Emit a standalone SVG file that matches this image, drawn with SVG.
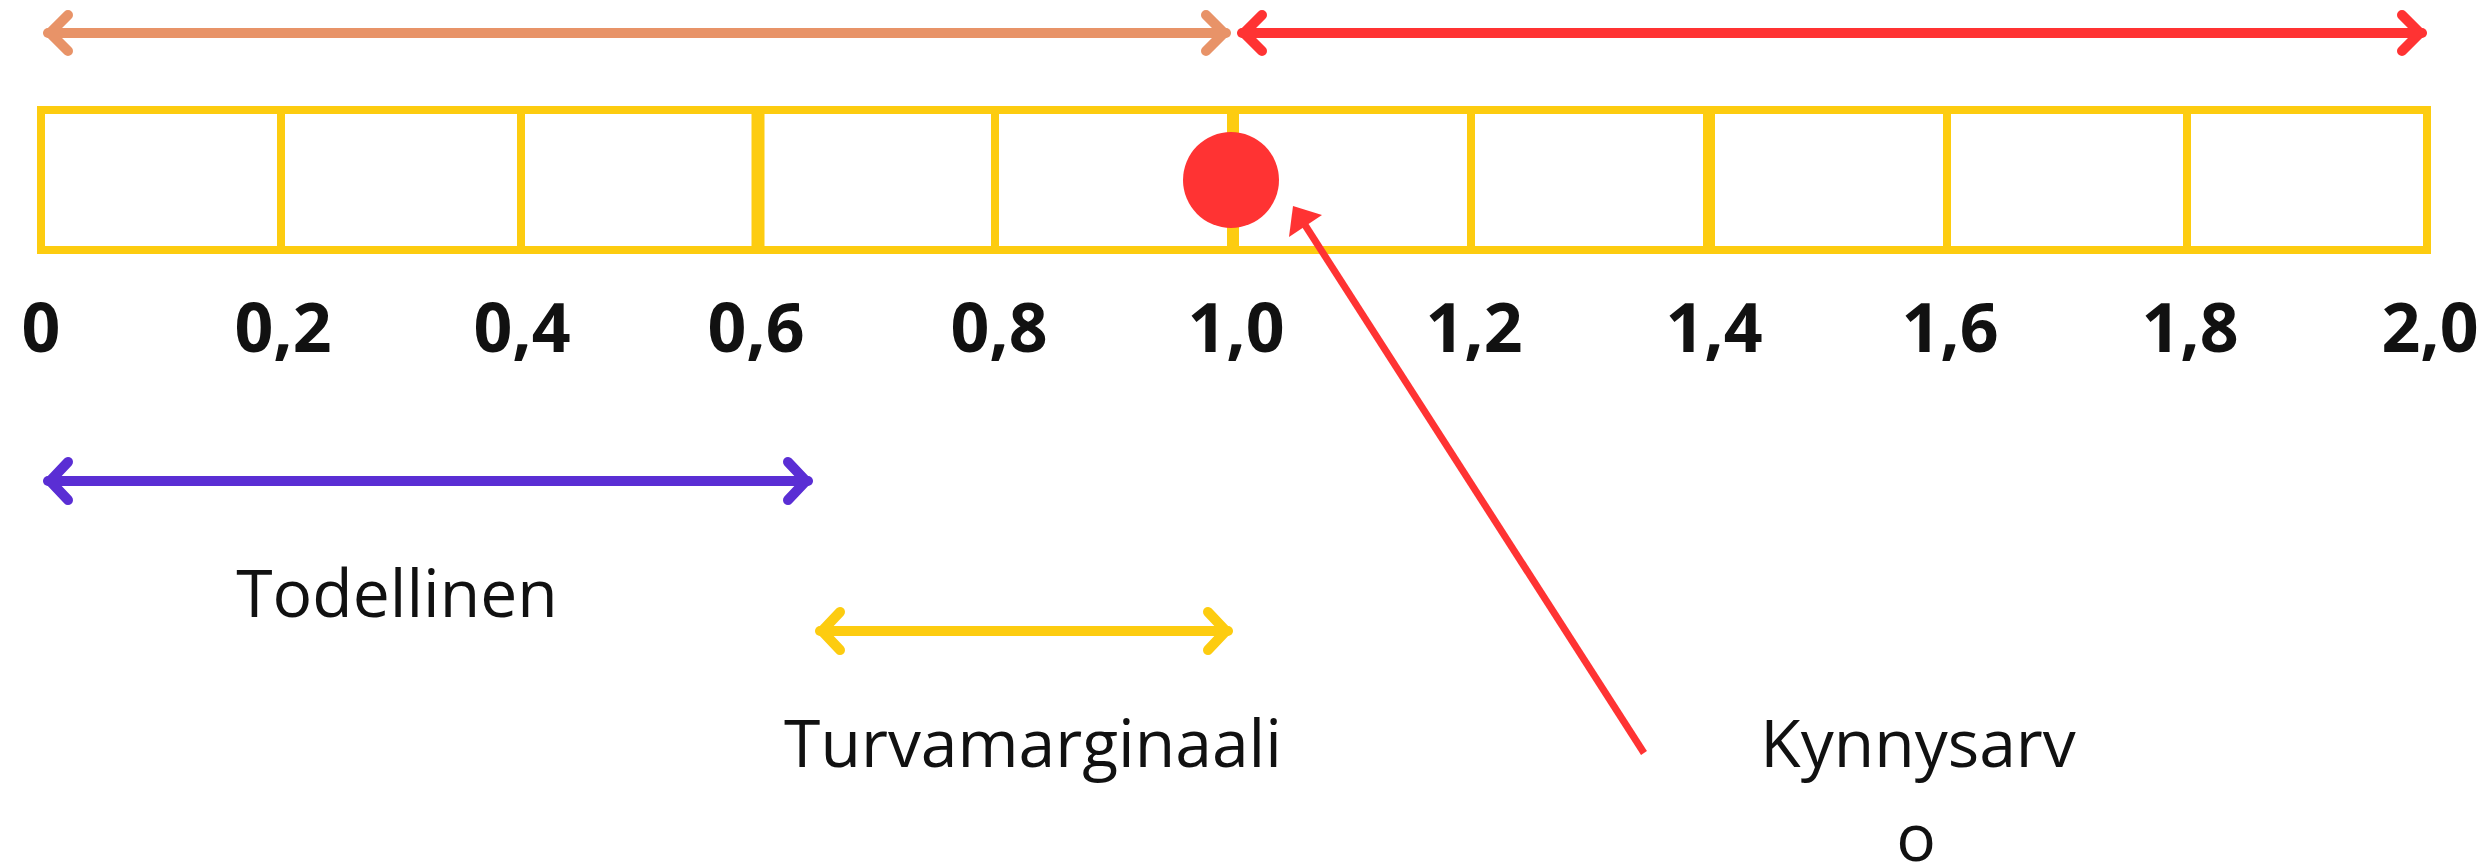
<svg xmlns="http://www.w3.org/2000/svg" width="2489" height="867" viewBox="0 0 2489 867">
<style>
.num{font-family:"Open Sans","Liberation Sans",sans-serif;font-weight:700;font-size:68px;fill:#111;text-anchor:middle}
.lbl{font-family:"Open Sans","Liberation Sans",sans-serif;font-weight:400;font-size:66px;fill:#111;text-anchor:middle}
.grid{fill:none;stroke:#FDCC10;stroke-width:8}
.arr{fill:none;stroke-width:10;stroke-linecap:round;stroke-linejoin:miter}
.head{fill:none;stroke-width:10;stroke-linecap:round;stroke-linejoin:miter;stroke-miterlimit:10}
</style>
<rect width="2489" height="867" fill="#fff"/>
<g id="scale">
<rect class="grid" x="41" y="110" width="2386" height="140"/>
<line class="grid" x1="281" y1="110" x2="281" y2="250"/>
<line class="grid" x1="521" y1="110" x2="521" y2="250"/>
<line class="grid" x1="758" y1="110" x2="758" y2="250" style="stroke-width:13"/>
<line class="grid" x1="995" y1="110" x2="995" y2="250"/>
<line class="grid" x1="1233" y1="110" x2="1233" y2="250" style="stroke-width:12"/>
<line class="grid" x1="1471" y1="110" x2="1471" y2="250"/>
<line class="grid" x1="1709" y1="110" x2="1709" y2="250" style="stroke-width:12"/>
<line class="grid" x1="1947" y1="110" x2="1947" y2="250"/>
<line class="grid" x1="2187" y1="110" x2="2187" y2="250"/>
</g>
<g id="ticks">
<text class="num" x="41" y="352">0</text>
<text class="num" x="283" y="352">0,2</text>
<text class="num" x="522" y="352">0,4</text>
<text class="num" x="756" y="352">0,6</text>
<text class="num" x="999" y="352">0,8</text>
<text class="num" x="1236" y="352">1,0</text>
<text class="num" x="1474" y="352">1,2</text>
<text class="num" x="1714" y="352">1,4</text>
<text class="num" x="1950" y="352">1,6</text>
<text class="num" x="2190" y="352">1,8</text>
<text class="num" x="2430" y="352">2,0</text>
</g>
<g id="threshold-dot">
<circle cx="1231" cy="180" r="48" fill="#FF3333"/>
</g>
<g id="todellinen">
<text class="lbl" x="397" y="617">Todellinen</text>
</g>
<g id="turvamarginaali">
<text class="lbl" x="1033" y="767">Turvamarginaali</text>
</g>
<g id="kynnysarvo">
<text class="lbl" x="1918" y="767">Kynnysarv</text>
<text class="lbl" x="1916" y="861">o</text>
</g>
<g id="connectors">
<g stroke="#E89368">
<line class="arr" x1="48" y1="33" x2="1226" y2="33"/>
<polyline class="head" points="68,15 50,33 68,51"/>
<polyline class="head" points="1206,15 1224,33 1206,51"/>
</g>
<g stroke="#FF3333">
<line class="arr" x1="1242" y1="33" x2="2422" y2="33"/>
<polyline class="head" points="1262,15 1244,33 1262,51"/>
<polyline class="head" points="2402,15 2420,33 2402,51"/>
</g>
<g stroke="#5A2ED4">
<line class="arr" x1="48" y1="481" x2="808" y2="481"/>
<polyline class="head" points="68,462 50,481 68,500"/>
<polyline class="head" points="788,462 806,481 788,500"/>
</g>
<g stroke="#FDCC10">
<line class="arr" x1="820" y1="631" x2="1228" y2="631"/>
<polyline class="head" points="840,612 822,631 840,650"/>
<polyline class="head" points="1208,612 1226,631 1208,650"/>
</g>
<line x1="1644" y1="753" x2="1305" y2="225" stroke="#FF3333" stroke-width="7"/>
<polygon points="1293,206 1289,237 1322,215" fill="#FF3333"/>
</g>
</svg>
